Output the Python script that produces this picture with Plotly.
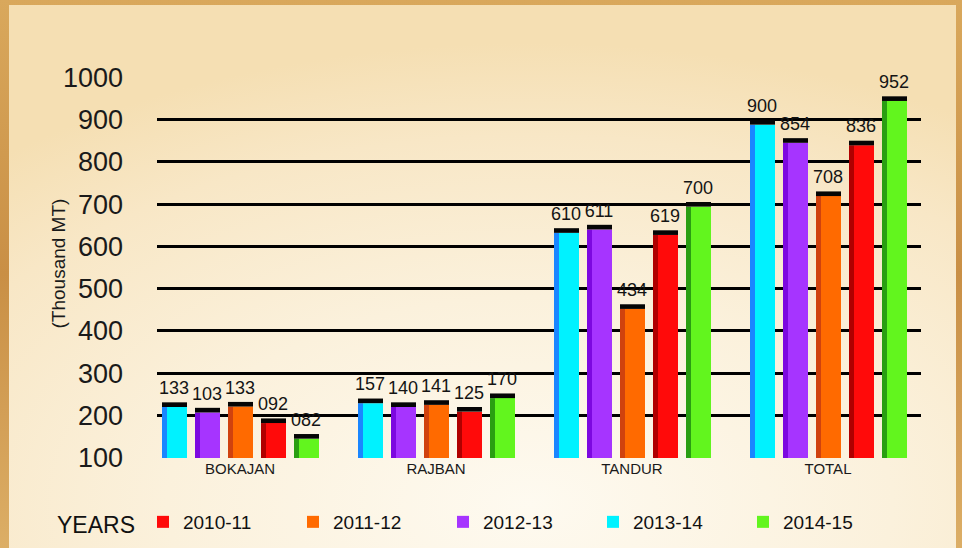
import base64
import plotly.graph_objects as go

# ---------------- data ----------------
categories = ["BOKAJAN", "RAJBAN", "TANDUR", "TOTAL"]
y_ticks = [100, 200, 300, 400, 500, 600, 700, 800, 900, 1000]

# series in the order the bars appear inside each group
series_names = ["2013-14", "2012-13", "2011-12", "2010-11", "2014-15"]
legend_order = ["2010-11", "2011-12", "2012-13", "2013-14", "2014-15"]

# data labels printed above the bars
labels_2013_14 = ["133", "157", "610", "900"]
labels_2012_13 = ["103", "140", "611", "854"]
labels_2011_12 = ["133", "141", "434", "708"]
labels_2010_11 = ["092", "125", "619", "836"]
labels_2014_15 = ["082", "170", "700", "952"]

# bar heights as drawn against the axis
heights_2013_14 = [220, 229, 632, 888]
heights_2012_13 = [207, 220, 640, 845]
heights_2011_12 = [221, 225, 452, 719]
heights_2010_11 = [182, 209, 627, 839]
heights_2014_15 = [145, 241, 694, 944]

all_labels = [labels_2013_14, labels_2012_13, labels_2011_12, labels_2010_11, labels_2014_15]
all_heights = [heights_2013_14, heights_2012_13, heights_2011_12, heights_2010_11, heights_2014_15]

# ---------------- style ----------------
front_colors = ["#00f2ff", "#a634ff", "#ff6a00", "#ff0a0a", "#62f51e"]
side_colors = ["#1a86ff", "#7d08e0", "#d0420e", "#b00000", "#2a9e12"]

W, H = 962, 548
ML, MR, MT, MB = 157, 41, 77, 90
UNIT = 196.0                   # px per category
pitch = 33 / UNIT
front_w = 20 / UNIT
side_w = 5 / UNIT
first_center = -63 / UNIT
CAP = 11                       # data units of the black top cap
LABEL_GAP = 9                  # data units between cap and label
FONT = "Liberation Sans, Arial, sans-serif"

x_idx = list(range(len(categories)))

fig = go.Figure()
for i, name in enumerate(series_names):
    fc = first_center + i * pitch
    f_off = fc - front_w / 2
    s_off = f_off - side_w
    h = all_heights[i]
    rank = legend_order.index(name) + 1
    # side face
    fig.add_trace(go.Bar(x=x_idx, y=h, offset=s_off, width=side_w,
                         marker=dict(color=side_colors[i], line=dict(width=0)),
                         showlegend=False, hoverinfo="skip", legendgroup=name))
    # front face
    fig.add_trace(go.Bar(x=x_idx, y=h, offset=f_off, width=front_w, name=name,
                         marker=dict(color=front_colors[i], line=dict(width=0)),
                         showlegend=True, legendrank=rank, legendgroup=name))
    # top cap
    fig.add_trace(go.Bar(x=x_idx, y=[CAP] * len(h), base=h, offset=s_off,
                         width=side_w + front_w,
                         marker=dict(color="#050505", line=dict(width=0)),
                         showlegend=False, hoverinfo="skip", legendgroup=name))
    # label
    fig.add_trace(go.Scatter(x=[k + fc - 3 / UNIT for k in x_idx],
                             y=[v + CAP + LABEL_GAP for v in h], mode="text",
                             text=all_labels[i], textposition="top center",
                             textfont=dict(family=FONT, size=18, color="#141414"),
                             cliponaxis=False, showlegend=False, hoverinfo="skip"))

# background (radial gradient + wooden frame)
svg = f"""<svg xmlns='http://www.w3.org/2000/svg' width='{W}' height='{H}' viewBox='0 0 {W} {H}' preserveAspectRatio='none'>
<defs>
<radialGradient id='g' cx='0.55' cy='0.92' r='0.85' fx='0.55' fy='0.92'>
<stop offset='0' stop-color='#fefaf0'/>
<stop offset='0.45' stop-color='#fbf1dc'/>
<stop offset='0.8' stop-color='#f8e7c6'/>
<stop offset='1' stop-color='#f5dfb3'/>
</radialGradient>
<linearGradient id='w' x1='0' y1='0' x2='0' y2='1'>
<stop offset='0' stop-color='#d9a85c'/>
<stop offset='0.5' stop-color='#c98f45'/>
<stop offset='1' stop-color='#dcae66'/>
</linearGradient>
</defs>
<rect width='{W}' height='{H}' fill='url(#w)'/>
<rect x='9' y='5' width='{W - 15}' height='{H - 5}' fill='url(#g)'/>
</svg>"""
bg_uri = "data:image/svg+xml;base64," + base64.b64encode(svg.encode()).decode()

pw = W - ML - MR
ph = H - MT - MB
fig.add_layout_image(dict(source=bg_uri, xref="paper", yref="paper",
                          x=-ML / pw, y=1 + MT / ph, sizex=W / pw, sizey=H / ph,
                          xanchor="left", yanchor="top", sizing="stretch",
                          layer="below"))

fig.add_annotation(text="(Thousand MT)", xref="paper", yref="paper",
                   x=(45 - ML) / pw, y=(H - MB - 264) / ph, showarrow=False,
                   textangle=-90, font=dict(family=FONT, size=19, color="#1a1a1a"))

x0 = (157 - 240) / UNIT
x1 = (921 - 240) / UNIT

fig.update_layout(
    width=W, height=H,
    margin=dict(l=ML, r=MR, t=MT, b=MB, autoexpand=False),
    paper_bgcolor="#f8e8c8", plot_bgcolor="rgba(0,0,0,0)",
    barmode="overlay",
    font=dict(family=FONT, color="#141414"),
    xaxis=dict(range=[x0, x1], tickvals=x_idx, ticktext=categories,
               showgrid=False, zeroline=False, showline=False, ticks="",
               tickfont=dict(family=FONT, size=15, color="#1a1a1a")),
    yaxis=dict(range=[99.3, 1000.7], tickvals=y_ticks, showgrid=True,
               gridcolor="#000000", gridwidth=2.6, zeroline=False,
               showline=False, ticks="", ticklabelstandoff=33,
               tickfont=dict(family=FONT, size=27, color="#1a1a1a")),
    legend=dict(orientation="h", xref="paper", yref="paper",
                x=(55 - ML) / pw, y=(H - MB - 523) / ph,
                xanchor="left", yanchor="middle",
                title=dict(text="YEARS", font=dict(family=FONT, size=23, color="#111")),
                font=dict(family=FONT, size=19, color="#111"),
                entrywidth=105, entrywidthmode="pixels",
                bgcolor="rgba(0,0,0,0)", traceorder="normal"),
    showlegend=True,
)

fig.write_html("out.html")
